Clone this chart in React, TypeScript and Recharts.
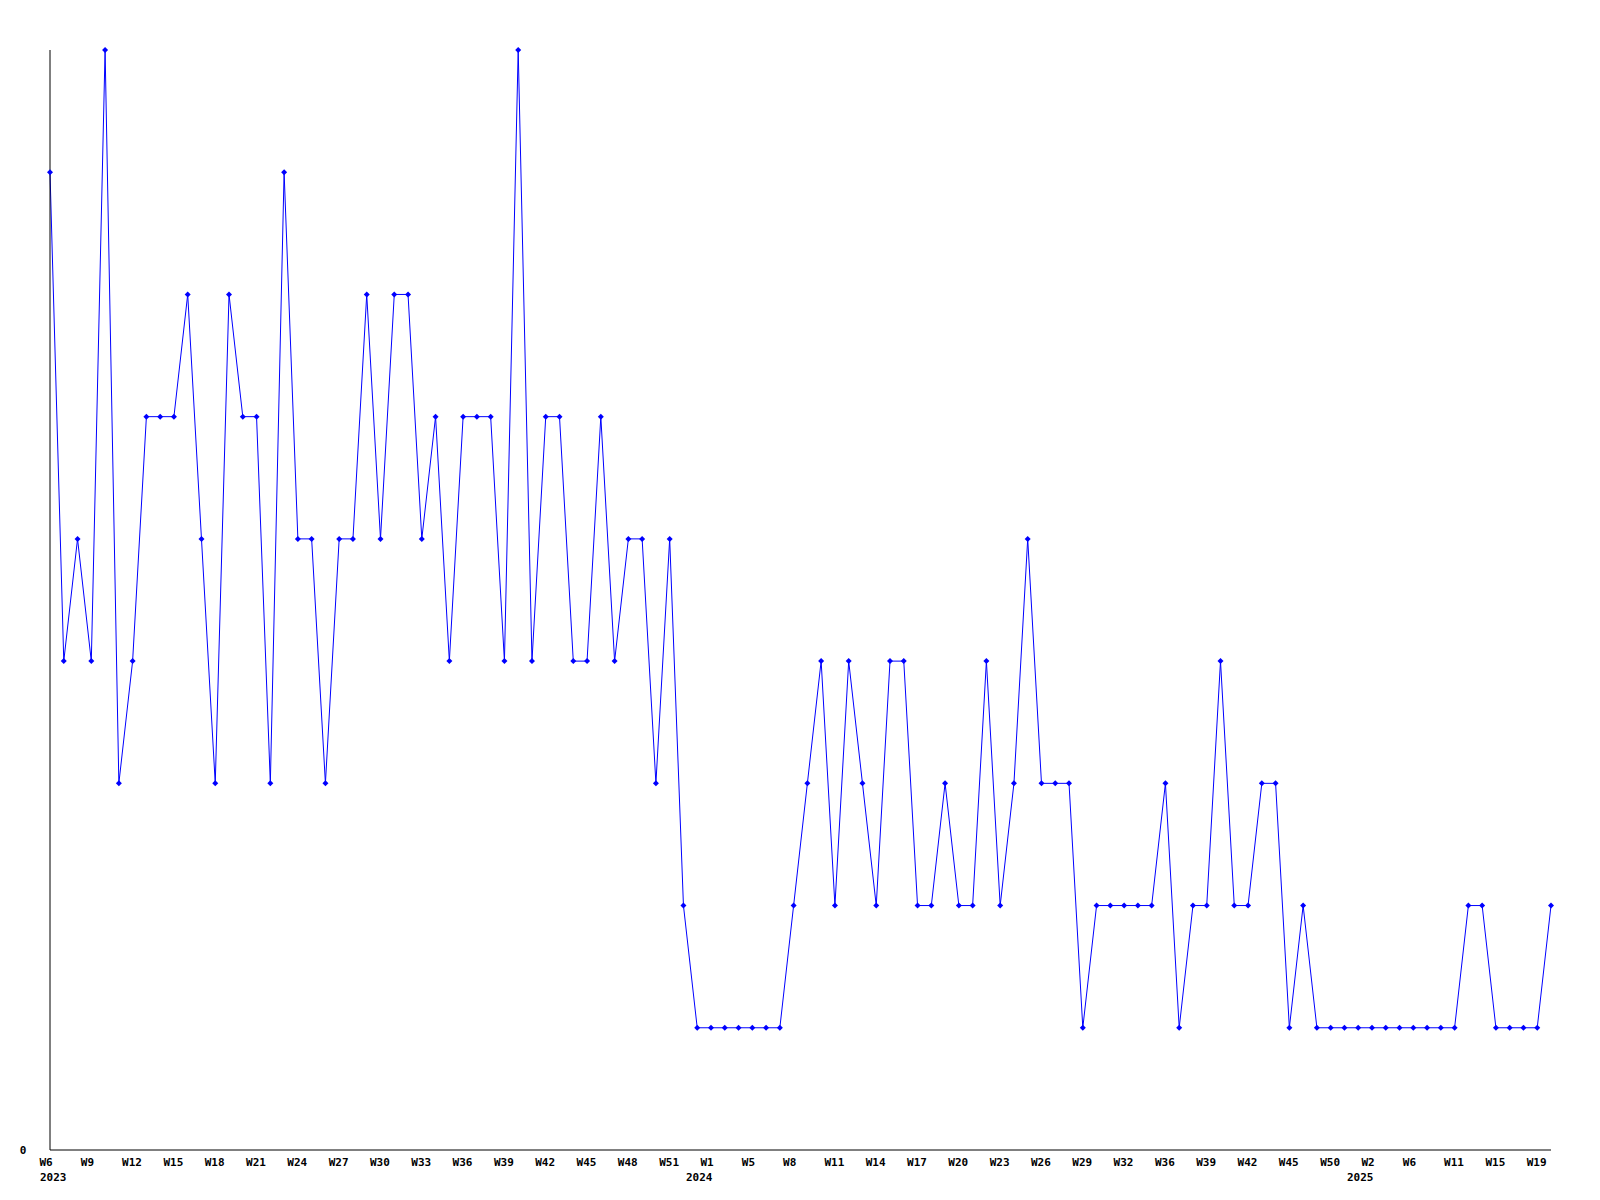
import React from 'react';
import { LineChart, Line, XAxis, YAxis } from 'recharts';

const weeks2023 = ['W6', 'W7', 'W8', 'W9', 'W10', 'W11', 'W12', 'W13', 'W14', 'W15', 'W16', 'W17', 'W18', 'W19', 'W20', 'W21', 'W22', 'W23', 'W24', 'W25', 'W26', 'W27', 'W28', 'W29', 'W30', 'W31', 'W32', 'W33', 'W34', 'W35', 'W36', 'W37', 'W38', 'W39', 'W40', 'W41', 'W42', 'W43', 'W44', 'W45', 'W46', 'W47', 'W48', 'W49', 'W50', 'W51', 'W52', 'W53'];
const weeks2024 = ['W1', 'W2', 'W4', 'W5', 'W6', 'W7', 'W8', 'W9', 'W10', 'W11', 'W12', 'W13', 'W14', 'W15', 'W16', 'W17', 'W18', 'W19', 'W20', 'W21', 'W22', 'W23', 'W24', 'W25', 'W26', 'W27', 'W28', 'W29', 'W30', 'W31', 'W32', 'W33', 'W35', 'W36', 'W37', 'W38', 'W39', 'W40', 'W41', 'W42', 'W43', 'W44', 'W45', 'W47', 'W48', 'W50', 'W51', 'W52'];
const weeks2025 = ['W2', 'W3', 'W5', 'W6', 'W8', 'W9', 'W11', 'W12', 'W13', 'W15', 'W16', 'W17', 'W19', 'W20'];

const counts = [
  8, 4, 5, 4, 9, 3, 4, 6, 6, 6,
  7, 5, 3, 7, 6, 6, 3, 8, 5, 5,
  3, 5, 5, 7, 5, 7, 7, 5, 6, 4,
  6, 6, 6, 4, 9, 4, 6, 6, 4, 4,
  6, 4, 5, 5, 3, 5, 2, 1, 1, 1,
  1, 1, 1, 1, 2, 3, 4, 2, 4, 3,
  2, 4, 4, 2, 2, 3, 2, 2, 4, 2,
  3, 5, 3, 3, 3, 1, 2, 2, 2, 2,
  2, 3, 1, 2, 2, 4, 2, 2, 3, 3,
  1, 2, 1, 1, 1, 1, 1, 1, 1, 1,
  1, 1, 1, 2, 2, 1, 1, 1, 1, 2,
];

const yTicks = [0];

const keys = [
  ...weeks2023.map((w) => `2023-${w}`),
  ...weeks2024.map((w) => `2024-${w}`),
  ...weeks2025.map((w) => `2025-${w}`),
];
const data = keys.map((key, i) => ({ key, value: counts[i] }));

// year is printed under the first visible tick of each year (every 3rd label is shown)
const yearStarts = new Set<string>();
let lastYear = '';
for (let i = 0; i < keys.length; i += 3) {
  const yr = keys[i].split('-')[0];
  if (yr !== lastYear) yearStarts.add(keys[i]);
  lastYear = yr;
}

const FONT = '"DejaVu Sans Mono", monospace';

const WeekTick = (props: any) => {
  const { x, y, payload } = props;
  const [yr, wk] = String(payload.value).split('-');
  const showYear = yearStarts.has(payload.value);
  return (
    <g>
      <text x={x - 10.5} y={y + 16} textAnchor="start" fontFamily={FONT} fontWeight="bold" fontSize={11} fill="#000">
        {wk}
      </text>
      {showYear && (
        <text x={Math.max(40, x - 25)} y={y + 31} textAnchor="start" fontFamily={FONT} fontWeight="bold" fontSize={11} fill="#000">
          {yr}
        </text>
      )}
    </g>
  );
};

const CountTick = (props: any) => {
  const { x, y, payload } = props;
  return (
    <text x={x - 27} y={y + 4} textAnchor="middle" fontFamily={FONT} fontWeight="bold" fontSize={11} fill="#000">
      {payload.value}
    </text>
  );
};

const Marker = (props: any) => {
  const { cx, cy } = props;
  if (cx == null || cy == null) return null;
  return (
    <path
      d={`M${cx},${cy - 3} L${cx + 3},${cy} L${cx},${cy + 3} L${cx - 3},${cy} Z`}
      fill="#0000ff"
      stroke="none"
    />
  );
};

export default function App() {
  return (
    <div style={{ position: 'absolute', left: 0, top: 0, width: 1600, height: 1200, background: '#fff' }}>
      <LineChart width={1600} height={1200} data={data} margin={{ top: 50, right: 49, left: 0, bottom: 0 }}>
        <XAxis
          dataKey="key"
          interval={2}
          height={50}
          tickLine={false}
          tickSize={0}
          tickMargin={0}
          axisLine={{ stroke: '#000', strokeWidth: 1 }}
          tick={<WeekTick />}
        />
        <YAxis
          domain={[0, 9]}
          ticks={yTicks}
          width={50}
          tickLine={false}
          tickSize={0}
          tickMargin={0}
          axisLine={{ stroke: '#000', strokeWidth: 1 }}
          tick={<CountTick />}
        />
        <Line
          type="linear"
          dataKey="value"
          stroke="#0000ff"
          strokeWidth={1}
          dot={<Marker />}
          activeDot={false}
          isAnimationActive={false}
        />
      </LineChart>
    </div>
  );
}
